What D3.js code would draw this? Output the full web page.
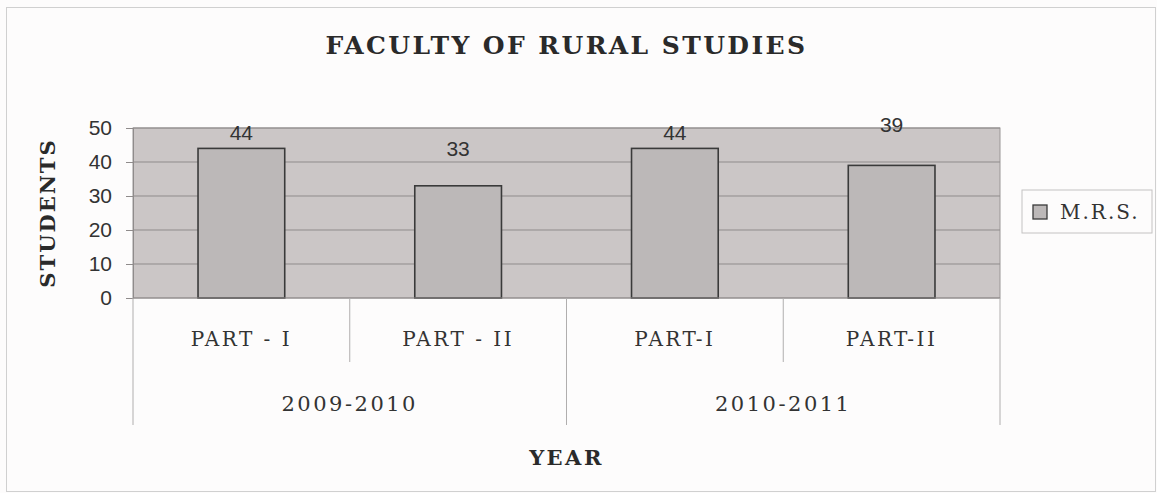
<!DOCTYPE html>
<html>
<head>
<meta charset="utf-8">
<script src="https://cdn.jsdelivr.net/npm/d3@7"></script>
<style>
  body { margin: 0; background: #fdfcfc; }
  svg { display: block; }
</style>
</head>
<body>
<div id="chart"></div>
<script>
var parts = ["PART - I", "PART - II", "PART-I", "PART-II"];
var years = ["2009-2010", "2010-2011"];
var students = [44, 33, 44, 39];
// where the value labels sit in the picture, in student units
var labelAt = [48.5, 44, 48.5, 51];
var yTicks = [0, 10, 20, 30, 40, 50];
var seriesName = "M.R.S.";

var width = 1157, height = 493;
var plotL = 133, plotR = 1000, plotT = 128, plotB = 298;
var serif = "'DejaVu Serif', serif";
var sans = "'Liberation Sans', Arial, sans-serif";

var svg = d3.select("#chart").append("svg")
  .attr("width", width)
  .attr("height", height);

// outer frame
svg.append("rect")
  .attr("x", 6.5).attr("y", 7.5)
  .attr("width", 1149).attr("height", 484)
  .attr("fill", "#fdfcfc")
  .attr("stroke", "#d0d0d0");

var x = d3.scaleBand().domain(d3.range(parts.length)).range([plotL, plotR]).paddingInner(0).paddingOuter(0);
var y = d3.scaleLinear().domain([0, 50]).range([plotB, plotT]);

// plot area
svg.append("rect")
  .attr("x", plotL).attr("y", plotT)
  .attr("width", plotR - plotL).attr("height", plotB - plotT)
  .attr("fill", "#cbc6c6")
  .attr("stroke", "#9a9696");

// gridlines
svg.append("g").selectAll("line")
  .data(yTicks.slice(1))
  .enter().append("line")
  .attr("x1", plotL).attr("x2", plotR)
  .attr("y1", function(d) { return y(d); })
  .attr("y2", function(d) { return y(d); })
  .attr("stroke", "#8f8b8b")
  .attr("stroke-width", 1);

// y axis
var yAxis = d3.axisLeft(y).tickValues(yTicks).tickSize(7).tickPadding(14);
var ya = svg.append("g").attr("transform", "translate(" + plotL + ",0)").call(yAxis);
ya.select(".domain").attr("stroke", "#8f8b8b");
ya.selectAll(".tick line").attr("stroke", "#8f8b8b");
ya.selectAll("text")
  .attr("font-family", sans)
  .attr("font-size", 21)
  .attr("fill", "#333");

// bars
var barW = x.bandwidth() * 0.4;
svg.append("g").selectAll("rect")
  .data(students)
  .enter().append("rect")
  .attr("x", function(d, i) { return x(i) + (x.bandwidth() - barW) / 2; })
  .attr("y", function(d) { return y(d); })
  .attr("width", barW)
  .attr("height", function(d) { return y(0) - y(d); })
  .attr("fill", "#bcb8b8")
  .attr("stroke", "#3a3a3a")
  .attr("stroke-width", 1.6);

// value labels
svg.append("g").selectAll("text")
  .data(students)
  .enter().append("text")
  .attr("x", function(d, i) { return x(i) + x.bandwidth() / 2; })
  .attr("y", function(d, i) { return y(labelAt[i]); })
  .attr("dy", "0.35em")
  .attr("text-anchor", "middle")
  .attr("font-family", sans)
  .attr("font-size", 21)
  .attr("fill", "#333")
  .text(function(d) { return d; });

// category axis: base line and separators
svg.append("line")
  .attr("x1", plotL).attr("x2", plotR)
  .attr("y1", plotB).attr("y2", plotB)
  .attr("stroke", "#8f8b8b");

var seps = d3.range(parts.length + 1);
svg.append("g").selectAll("line")
  .data(seps)
  .enter().append("line")
  .attr("x1", function(i) { return i < parts.length ? x(i) : plotR; })
  .attr("x2", function(i) { return i < parts.length ? x(i) : plotR; })
  .attr("y1", plotB)
  .attr("y2", function(i) { return i % 2 === 0 ? 425 : 362; })
  .attr("stroke", "#b0aeae");

svg.append("g").selectAll("text")
  .data(parts)
  .enter().append("text")
  .attr("x", function(d, i) { return x(i) + x.bandwidth() / 2; })
  .attr("y", 346)
  .attr("text-anchor", "middle")
  .attr("font-family", serif)
  .attr("font-size", 20)
  .attr("letter-spacing", 2.5)
  .attr("fill", "#333")
  .text(function(d) { return d; });

svg.append("g").selectAll("text")
  .data(years)
  .enter().append("text")
  .attr("x", function(d, i) { return x(i * 2) + x.bandwidth(); })
  .attr("y", 411)
  .attr("text-anchor", "middle")
  .attr("font-family", serif)
  .attr("font-size", 21)
  .attr("letter-spacing", 2.5)
  .attr("fill", "#333")
  .text(function(d) { return d; });

// title and axis titles
svg.append("text")
  .attr("x", (plotL + plotR) / 2)
  .attr("y", 54)
  .attr("text-anchor", "middle")
  .attr("font-family", serif)
  .attr("font-weight", "bold")
  .attr("font-size", 25)
  .attr("letter-spacing", 2.4)
  .attr("fill", "#2a2a2a")
  .text("FACULTY OF RURAL STUDIES");

svg.append("text")
  .attr("x", (plotL + plotR) / 2)
  .attr("y", 465)
  .attr("text-anchor", "middle")
  .attr("font-family", serif)
  .attr("font-weight", "bold")
  .attr("font-size", 21)
  .attr("letter-spacing", 2.5)
  .attr("fill", "#2a2a2a")
  .text("YEAR");

svg.append("text")
  .attr("transform", "translate(55," + (plotT + plotB) / 2 + ") rotate(-90)")
  .attr("text-anchor", "middle")
  .attr("font-family", serif)
  .attr("font-weight", "bold")
  .attr("font-size", 21)
  .attr("letter-spacing", 2)
  .attr("fill", "#2a2a2a")
  .text("STUDENTS");

// legend
var lg = svg.append("g").attr("transform", "translate(1022,190)");
lg.append("rect")
  .attr("width", 130).attr("height", 43)
  .attr("fill", "#fdfcfc")
  .attr("stroke", "#c4c2c2");
lg.append("rect")
  .attr("x", 11).attr("y", 15)
  .attr("width", 14).attr("height", 14)
  .attr("fill", "#bcb8b8")
  .attr("stroke", "#3a3a3a")
  .attr("stroke-width", 1.3);
lg.append("text")
  .attr("x", 38).attr("y", 29)
  .attr("font-family", serif)
  .attr("font-size", 20)
  .attr("letter-spacing", 2)
  .attr("fill", "#333")
  .text(seriesName);
</script>
</body>
</html>
